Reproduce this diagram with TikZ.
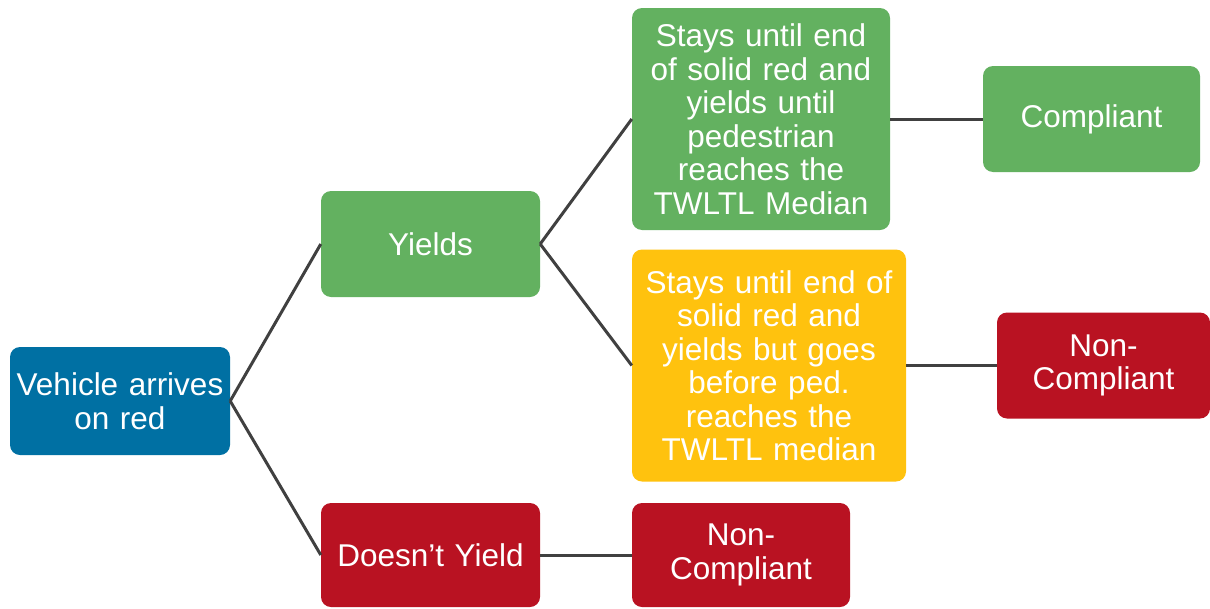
\documentclass[tikz,border=0pt]{standalone}
\usepackage{fontspec}
\setmainfont{Liberation Sans}
\definecolor{vblue}{HTML}{0070A3}
\definecolor{vgreen}{HTML}{63B160}
\definecolor{vyellow}{HTML}{FFC20E}
\definecolor{vred}{HTML}{B91222}
\definecolor{vline}{HTML}{404040}
\begin{document}
\begin{tikzpicture}[x=1pt,y=-1pt,
    box/.style={rectangle,rounded corners=10pt,text=white,align=center,inner sep=0pt,
        font=\fontsize{31.5}{33.5}\selectfont},
    every edge/.style={draw=vline,line width=3pt}]
            \useasboundingbox (0,0) rectangle (1210,608);

            \node[box,fill=vblue,text width=220pt,minimum height=108pt] (V) at (120,401) {Vehicle arrives\\on red};
            \node[box,fill=vgreen,text width=219pt,minimum height=106pt] (Y) at (430.5,244) {Yields};
            \node[box,fill=vred,text width=219pt,minimum height=104pt] (N) at (430.5,555) {Doesn’t Yield};

            \node[box,fill=vgreen,text width=258pt,minimum height=222pt] (S1) at (761,119) {Stays until end\\of solid red and\\yields until\\pedestrian\\reaches the\\TWLTL Median};
            \node[box,fill=vyellow,text width=274pt,minimum height=232pt] (S2) at (769,365.5) {Stays until end of\\solid red and\\yields but goes\\before ped.\\reaches the\\TWLTL median};
            \node[box,fill=vred,text width=218pt,minimum height=104pt] (NC2) at (741,555) {Non-\\Compliant};

            \node[box,fill=vgreen,text width=217pt,minimum height=106pt] (C) at (1091.5,119) {Compliant};
            \node[box,fill=vred,text width=213pt,minimum height=106pt] (NC1) at (1103.5,365.5) {Non-\\Compliant};

            \path [-] (V.east) edge (Y.west);
            \path [-] (V.east) edge (N.west);
            \path [-] (Y.east) edge (S1.west);
            \path [-] (Y.east) edge (S2.west);
            \path [-] (N) edge (NC2);
            \path [-] (S1) edge (C);
            \path [-] (S2) edge (NC1);
        \end{tikzpicture}
\end{document}
